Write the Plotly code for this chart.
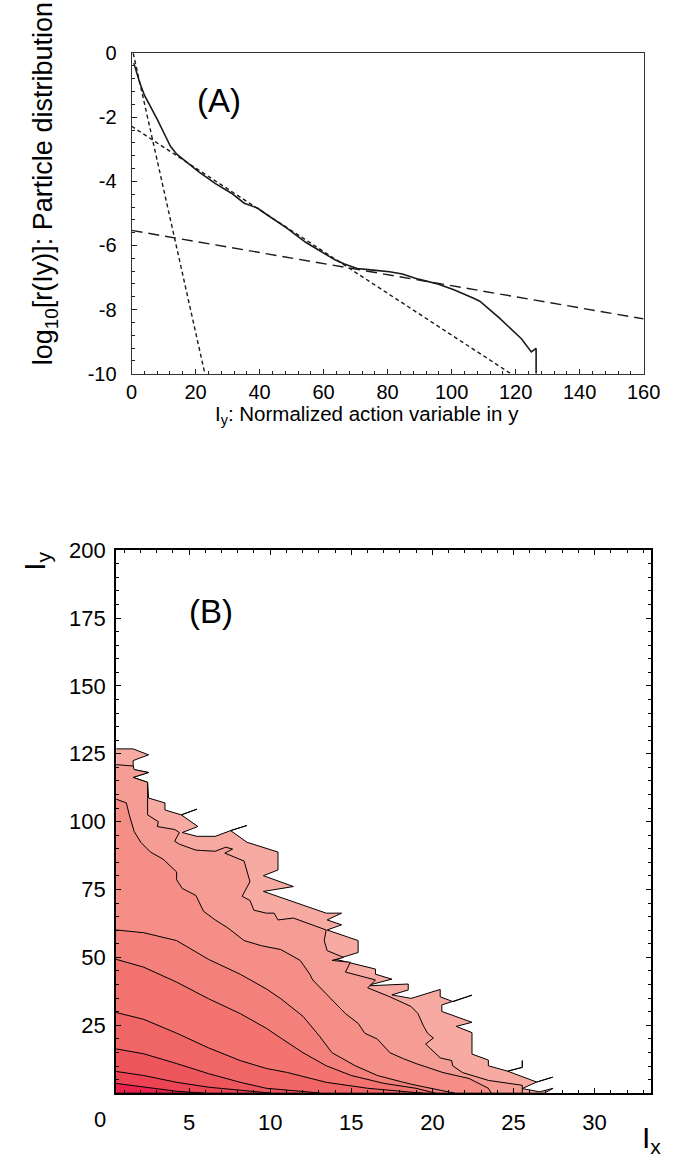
import plotly.graph_objects as go

W, H = 679, 1162
FONT = "Liberation Sans, Arial, Helvetica, sans-serif"

# ---------------- Panel A data ----------------
iy_vals = [0.7, 1.5, 2.5, 4.0, 6.0, 8.1, 10.1, 12.1, 14.1, 17.1, 21.1, 26.2, 31.2, 35.2,
           39.3, 42.3, 48.3, 54.4, 60.4, 63.4, 66.5, 70.5, 75.5, 80.6, 84.6, 89.6, 95.7,
           100.7, 106.7, 108.8, 114.8, 121.8, 124.9, 126.4, 126.4]
log_rho = [-0.31, -0.60, -0.91, -1.31, -1.67, -2.08, -2.49, -2.90, -3.15, -3.40, -3.71,
           -4.07, -4.37, -4.68, -4.83, -5.04, -5.44, -5.90, -6.26, -6.44, -6.58, -6.72,
           -6.77, -6.82, -6.89, -7.05, -7.20, -7.38, -7.64, -7.74, -8.25, -8.91, -9.32,
           -9.21, -10.0]

fit_core_x = [0.5, 22.9]
fit_core_y = [0.0, -10.0]
fit_mid_x = [0.0, 118.5]
fit_mid_y = [-2.28, -10.0]
fit_tail_x = [0.0, 160.0]
fit_tail_y = [-5.53, -8.29]

a_xticks = [0, 20, 40, 60, 80, 100, 120, 140, 160]
a_yticks = [0, -2, -4, -6, -8, -10]
a_yticktext = ["0", "-2", "-4", "-6", "-8", "-10"]

# ---------------- Panel B data (contour lines, outer -> inner) ----------------
c9_x = [0.5, 1.55, 2.5, 1.55, 1.55, 2.5, 1.55, 2.44, 2.5, 3.51, 3.51, 4.52, 5.48, 4.52, 5.54,
        4.58, 5.48, 6.61, 7.56, 8.57, 7.56, 8.57, 9.46, 10.48, 10.48, 9.58, 11.43, 9.58, 13.45,
        14.40, 13.51, 14.40, 13.51, 15.42, 15.42, 14.05, 16.49, 16.49, 17.5, 15.89, 18.51, 18.51,
        17.5, 18.69, 20.48, 20.48, 21.27, 22.44, 21.27, 20.58, 20.58, 22.44, 21.47, 22.44, 22.44,
        23.45, 23.45, 24.64, 25.54, 25.54, 25.54, 24.64, 26.43, 27.42, 26.43, 25.54, 26.61,
        27.44, 26.9]
c9_y = [126.8, 126.8, 124.6, 122.5, 119.2, 118.1, 116.3, 114.5, 108.7, 106.9, 104.3, 102.5,
        104.6, 102.5, 98.2, 96.0, 94.6, 94.6, 96.7, 98.6, 96.7, 92.4, 90.6, 88.8, 82.2, 80.1,
        76.1, 74.3, 66.3, 66.3, 63.8, 62.0, 60.1, 56.2, 51.8, 49.3, 45.7, 43.8, 42.0, 39.5,
        40.2, 38.0, 36.2, 34.9, 38.2, 35.5, 33.7, 36.1, 33.7, 32.5, 30.1, 26.1, 24.6, 22.3,
        14.4, 12.2, 10.1, 8.1, 9.5, 12.0, 9.5, 8.1, 4.1, 5.9, 4.1, 1.7, 0.5, 1.8, 0.0]

c8_x = [0.5, 1.55, 1.61, 2.5, 1.55, 2.44, 2.44, 3.10, 3.04, 4.11, 4.40, 4.11, 4.40, 5.42, 6.61,
        7.26, 7.68, 7.20, 8.39, 8.57, 8.75, 8.27, 8.75, 8.99, 9.76, 10.24, 10.48, 11.43, 13.45,
        13.33, 13.51, 14.52, 13.81, 14.94, 14.64, 16.49, 16.01, 17.38, 18.69, 19.11, 19.46,
        19.70, 20.06, 19.58, 20.48, 21.19, 21.25, 21.85, 23.45, 25.54, 25.54]
c8_y = [121.0, 120.5, 119.2, 118.1, 116.3, 114.5, 102.5, 100.0, 98.2, 97.1, 96.0, 92.8, 91.7,
        89.5, 89.1, 90.6, 89.9, 88.4, 85.5, 81.5, 77.9, 72.5, 71.0, 67.4, 66.3, 66.3, 63.8,
        64.5, 60.1, 56.2, 52.5, 50.0, 48.9, 48.2, 44.6, 41.7, 38.8, 35.5, 31.9, 29.3, 24.6,
        22.1, 20.3, 18.1, 13.0, 12.0, 10.1, 7.6, 4.7, 2.9, 0.0]

c7_x = [0.5, 1.13, 1.31, 1.61, 2.02, 2.62, 3.39, 3.93, 4.23, 4.23, 4.58, 5.42, 5.77, 5.89,
        6.61, 7.38, 8.39, 9.46, 10.65, 11.85, 12.44, 12.62, 13.45, 14.64, 15.42, 15.83, 16.61,
        17.38, 18.21, 18.99, 20.65, 22.26, 23.45, 23.63]
c7_y = [108.3, 106.9, 102.5, 96.4, 92.4, 88.8, 86.2, 83.3, 81.5, 78.6, 75.4, 72.8, 68.8, 67.0,
        63.8, 60.9, 56.2, 54.3, 52.9, 48.9, 43.8, 41.7, 36.6, 29.3, 25.7, 22.1, 19.9, 14.9,
        12.7, 10.9, 7.6, 5.4, 1.8, 0.0]

c6_x = [0.5, 2.2, 4.23, 6.19, 8.15, 9.76, 10.65, 12.02, 13.04, 13.81, 15.24, 16.61, 18.21,
        18.99, 20.48, 21.37]
c6_y = [60.1, 59.1, 56.2, 49.3, 43.8, 38.4, 34.8, 28.3, 21.0, 14.9, 10.1, 6.5, 4.0, 2.9, 1.1, 0.0]

c5_x = [0.5, 2.2, 4.23, 6.19, 8.15, 9.76, 10.48, 12.02, 13.45, 15.0, 17.02, 18.99, 20.18]
c5_y = [49.3, 46.4, 40.9, 34.8, 29.3, 23.9, 21.0, 14.9, 10.1, 6.5, 3.6, 1.8, 0.0]

c4_x = [0.5, 2.2, 4.23, 6.19, 8.15, 9.76, 11.07, 13.45, 16.01, 18.99, 19.4]
c4_y = [29.7, 27.2, 22.1, 16.7, 12.0, 9.1, 7.6, 4.0, 1.8, 0.4, 0.0]

c3_x = [0.5, 2.2, 4.23, 6.19, 8.15, 9.76, 12.44, 13.04]
c3_y = [16.3, 14.5, 10.9, 7.2, 4.0, 1.8, 0.4, 0.0]

c2_x = [0.5, 2.2, 4.23, 6.19, 8.15, 10.06]
c2_y = [8.0, 6.5, 4.0, 2.2, 1.1, 0.0]

c1_x = [0.5, 2.2, 4.23, 5.9]
c1_y = [3.6, 2.2, 0.7, 0.0]

band_colors = ["#f7aaa1", "#f59c94", "#f48e87", "#f3807a", "#f2736f",
               "#f06565", "#ee565d", "#ec4455", "#e9234d"]

b_xticks = [5, 10, 15, 20, 25, 30]
b_yticks = [25, 50, 75, 100, 125, 150, 175, 200]

# ---------------- Figure ----------------
fig = go.Figure()

# Panel A traces
fig.add_trace(go.Scatter(x=iy_vals, y=log_rho, mode="lines",
                         line=dict(color="#1a1a1a", width=1.6), xaxis="x", yaxis="y"))
fig.add_trace(go.Scatter(x=fit_core_x, y=fit_core_y, mode="lines",
                         line=dict(color="#1a1a1a", width=1.4, dash="4px,3px"),
                         xaxis="x", yaxis="y"))
fig.add_trace(go.Scatter(x=fit_mid_x, y=fit_mid_y, mode="lines",
                         line=dict(color="#1a1a1a", width=1.4, dash="4px,3px"),
                         xaxis="x", yaxis="y"))
fig.add_trace(go.Scatter(x=fit_tail_x, y=fit_tail_y, mode="lines",
                         line=dict(color="#1a1a1a", width=1.4, dash="11px,6px"),
                         xaxis="x", yaxis="y"))

# Panel B filled contour bands
contours = [(c9_x, c9_y), (c8_x, c8_y), (c7_x, c7_y), (c6_x, c6_y), (c5_x, c5_y),
            (c4_x, c4_y), (c3_x, c3_y), (c2_x, c2_y), (c1_x, c1_y)]
for (cx, cy), col in zip(contours, band_colors):
    px = list(cx) + [cx[0]]
    py = list(cy) + [0.0]
    fig.add_trace(go.Scatter(x=px, y=py, mode="lines", fill="toself", fillcolor=col,
                             line=dict(color="black", width=1), xaxis="x2", yaxis="y2"))

axA = dict(showgrid=False, zeroline=False, showline=True, linecolor="#333", linewidth=1,
           mirror=True, ticks="inside", ticklen=5, tickwidth=1, tickcolor="#222",
           tickfont=dict(family=FONT, size=20, color="black"))
axB = dict(showgrid=False, zeroline=False, showline=True, linecolor="black", linewidth=2,
           mirror="allticks", ticks="inside", ticklen=5, tickwidth=1, tickcolor="black",
           tickfont=dict(family=FONT, size=22, color="black"))

fig.update_layout(
    width=W, height=H, margin=dict(l=0, r=0, t=0, b=0),
    paper_bgcolor="white", plot_bgcolor="white", showlegend=False,
    xaxis=dict(axA, domain=[130 / W, 660 / W], anchor="y", range=[0, 160],
               tickmode="array", tickvals=a_xticks, ticklabelstandoff=0,
               minor=dict(ticks="inside", ticklen=3, dtick=4, tick0=0, tickcolor="#222")),
    yaxis=dict(axA, domain=[1 - 369 / H, 1 - 42 / H], anchor="x", range=[-10, 0],
               tickmode="array", tickvals=a_yticks, ticktext=a_yticktext, ticklabelstandoff=10,
               minor=dict(ticks="inside", ticklen=3, dtick=0.4, tick0=0, tickcolor="#222")),
    xaxis2=dict(axB, domain=[114 / W, 668 / W], anchor="y2", range=[0.5, 33.5],
                tickmode="array", tickvals=b_xticks, ticklabelstandoff=8,
                minor=dict(ticks="inside", ticklen=3, dtick=1, tick0=0, tickcolor="black")),
    yaxis2=dict(axB, domain=[1 - 1103 / H, 1 - 549 / H], anchor="x2", range=[0, 200],
                tickmode="array", tickvals=b_yticks, ticklabelstandoff=4,
                minor=dict(ticks="inside", ticklen=3, dtick=5, tick0=0, tickcolor="black")),
)

ann = [
    dict(text="(A)", x=220 / W, y=1 - 90 / H, font=dict(size=33)),
    dict(text="log<sub>10</sub>[r(Iy)]: Particle distribution", x=40 / W, y=1 - 175 / H,
         textangle=-90, font=dict(size=27)),
    dict(text="I<sub>y</sub>: Normalized action variable in y", x=374 / W, y=1 - 411 / H,
         font=dict(size=20.5)),
    dict(text="(B)", x=212 / W, y=1 - 612 / H, font=dict(size=33)),
    dict(text="I<sub>y</sub>", x=32 / W, y=1 - 560 / H, textangle=-90, font=dict(size=30)),
    dict(text="I<sub>x</sub>", x=668 / W, y=1 - 1150 / H, font=dict(size=30)),
    dict(text="0", x=97 / W, y=1 - 1130 / H, font=dict(size=22)),
]
for a in ann:
    a.update(xref="paper", yref="paper", showarrow=False, xanchor="center", yanchor="middle")
    a["font"].update(family=FONT, color="black")
fig.update_layout(annotations=ann)

fig.write_html("out.html")
